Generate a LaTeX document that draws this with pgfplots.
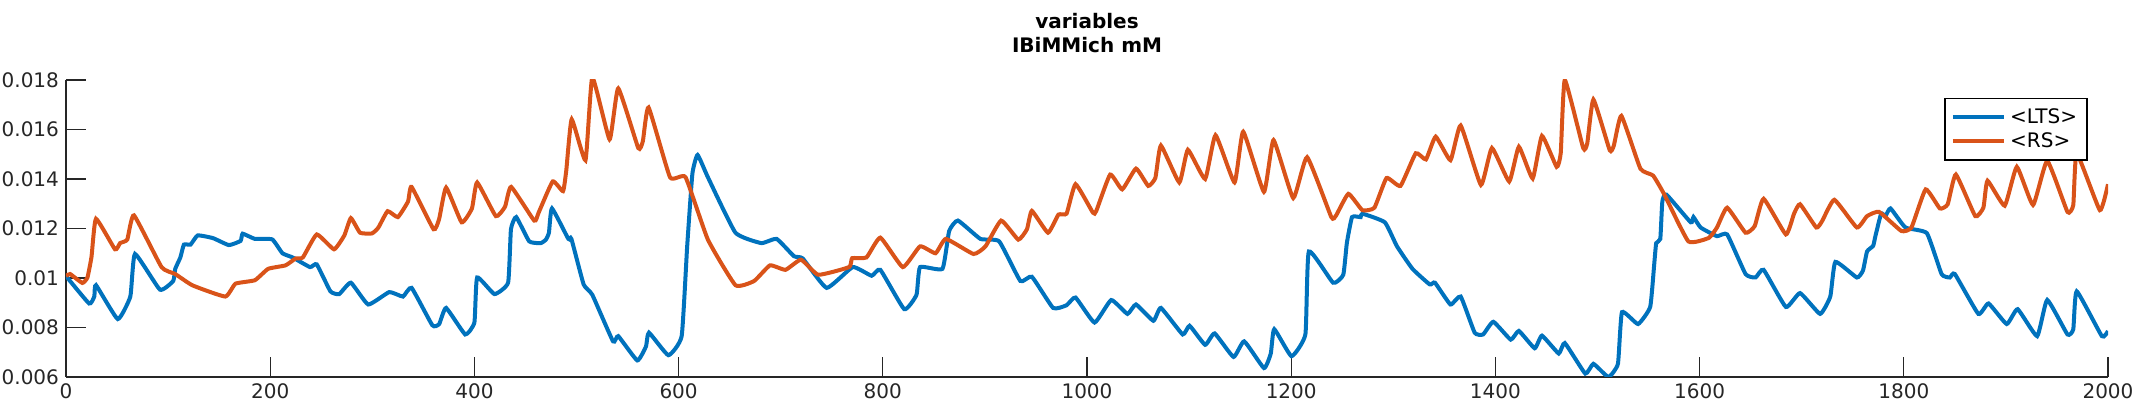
\documentclass[border=0pt]{standalone}
\usepackage{pgfplots}
\pgfplotsset{compat=1.18}
\usepackage{fontspec}
\setmainfont{DejaVu Sans}
\definecolor{mblue}{RGB}{0,114,189}
\definecolor{morange}{RGB}{217,83,25}
\begin{document}
\begin{tikzpicture}
\useasboundingbox (0,0) rectangle (1066.5pt,200pt);
\begin{axis}[at={(33pt,11.5pt)}, anchor=origin,
  scale only axis, width=1021pt, height=148.5pt,
  xmin=0, xmax=2000, ymin=0.006, ymax=0.018,
  axis lines=left, axis line style={-, line width=0.6pt, color=black!85},
  tick align=inside, major tick length=10pt, tick style={color=black!85, line width=0.6pt},
  xtick={0,200,...,2000}, ytick={0.006,0.008,...,0.0181},
  xticklabel style={/pgf/number format/1000 sep={}},
  yticklabel style={/pgf/number format/fixed, /pgf/number format/precision=3},
  scaled y ticks=false,
  /pgf/number format/assume math mode=true,
  ticklabel style={font=\fontsize{10}{12}\selectfont, color=black!85},
  title style={font=\bfseries\fontsize{10}{12}\selectfont, align=center, yshift=4pt},
  title={variables\\IBiMMich mM},
  legend style={at={(0.99,0.94)}, anchor=north east, draw=black, line width=0.6pt, fill=white,
    font=\fontsize{10}{12}\selectfont, row sep=-1pt, inner sep=3pt},
  legend cell align=left,
  legend image code/.code={\draw[#1, line width=2pt] (0cm,0cm) -- (0.9cm,0cm);},
]
\addplot[mblue, line width=2pt, smooth, tension=0.25] coordinates {
(0,0.01008)(22.6,0.00897)(27.7,0.00925)(29.4,0.00971)(50.7,0.00834)(63,0.00925)(67.6,0.01097)
(92,0.00953)(105,0.00988)(107,0.01037)(112,0.01083)(115.5,0.01135)(122,0.01135)(129,0.01172)
(144,0.01161)(159.5,0.01133)(171,0.0115)(173,0.01179)(185,0.01158)(202,0.01156)(212,0.011)
(222,0.01083)(239,0.01044)(245.6,0.01055)(259,0.00946)(267.6,0.00935)(279,0.00981)(296,0.00893)
(316.6,0.00943)(330,0.00925)(338.5,0.0096)(358.8,0.00809)(365.5,0.00814)(372.3,0.00879)
(391,0.00772)(400,0.0082)(402.7,0.01002)(419.6,0.00935)(433,0.00981)(435.8,0.01197)(441,0.01246)
(453.7,0.01148)(465,0.01141)(470,0.01155)(473,0.01183)(476,0.01281)(492,0.01158)(495,0.01158)
(507,0.00974)(515.5,0.00932)(535.8,0.00744)(540.9,0.00765)(559.5,0.00667)(568,0.00723)
(571,0.00779)(590,0.00688)(603,0.00765)(608.4,0.01128)(613.5,0.01421)(618.6,0.01497)
(628.7,0.01407)(655.7,0.01183)(681,0.01141)(696,0.01158)(713,0.01088)(721.6,0.01079)
(745,0.0096)(770.6,0.01044)(789,0.01009)(797.6,0.01033)(821,0.00874)(833,0.00932)(836.5,0.01044)
(858.4,0.01037)(865,0.0119)(873.6,0.01232)(895.6,0.01158)(914,0.01148)(934.7,0.00988)(946,0.01005)
(966.8,0.00879)(980,0.0089)(988.8,0.00921)(1007.4,0.0082)(1023.7,0.00911)(1039.6,0.00855)
(1048,0.00893)(1065,0.00827)(1072.4,0.00879)(1093.7,0.00772)(1100.5,0.00807)(1115.7,0.0073)
(1125,0.00776)(1143.5,0.00681)(1154,0.00744)(1173.3,0.00636)(1180,0.00695)(1183.4,0.00793)
(1200.3,0.00684)(1213.9,0.00772)(1217.3,0.01107)(1241,0.00981)(1251,0.01013)(1254.5,0.01141)
(1259.6,0.01246)(1268,0.01246)(1269.7,0.0126)(1291.7,0.01225)(1303.6,0.01128)(1318.8,0.01037)
(1335.7,0.00974)(1340.8,0.00981)(1356,0.00893)(1366,0.00925)(1379.7,0.00779)(1388,0.00772)
(1398,0.00823)(1415,0.00751)(1423,0.00786)(1438.5,0.00716)(1445.6,0.00767)(1462,0.00695)
(1468,0.00737)(1488,0.00614)(1496,0.00653)(1510.7,0.006)(1520,0.00653)(1524,0.00862)
(1539.7,0.00814)(1551.6,0.00883)(1555.6,0.01058)(1557.5,0.01141)(1561.5,0.01158)(1563.5,0.01309)
(1567.5,0.01337)(1591.3,0.01225)(1594,0.01246)(1601,0.01204)(1617,0.01169)(1627,0.01176)
(1645,0.01016)(1654.8,0.01002)(1662.7,0.01033)(1684.5,0.00883)(1698.4,0.00939)(1718,0.00855)
(1728,0.00925)(1733,0.01065)(1754,0.01002)(1760,0.0103)(1764,0.01107)(1770,0.0113)(1772,0.01166)
(1777.8,0.0126)(1782,0.0125)(1787,0.01281)(1801.6,0.01204)(1822.6,0.01181)(1837,0.01016)
(1845,0.01002)(1850,0.01016)(1873,0.00855)(1883,0.00897)(1900.8,0.00814)(1911.5,0.00874)
(1930.6,0.00765)(1940.5,0.00911)(1960.3,0.00772)(1966,0.00793)(1969.4,0.00946)(1994,0.00765)
(2000,0.00786)};
\addlegendentry{<LTS>}
\addplot[morange, line width=2pt, smooth, tension=0.25] coordinates {
(0,0.01008)(4,0.01016)(16,0.0098)(21,0.01002)(25,0.01086)(29.4,0.01239)(48,0.01116)(53,0.01141)
(60,0.01155)(66.6,0.01253)(93.6,0.01044)(107,0.01016)(124,0.0097)(156,0.00925)(166,0.00977)
(185,0.00991)(198,0.01037)(215,0.01051)(225,0.01079)(232,0.01083)(245.6,0.01176)(262.5,0.01116)
(272.6,0.01172)(279,0.01242)(288,0.01183)(299.7,0.0118)(306,0.01204)(315,0.0127)(325,0.01246)
(335,0.01309)(338.5,0.01368)(360,0.01197)(365.5,0.01239)(372.3,0.01365)(387.5,0.01225)
(397.6,0.01281)(402.7,0.01386)(421,0.0125)(430,0.01288)(436,0.01368)(458.6,0.01232)(463,0.01265)
(476.7,0.0139)(486.8,0.01351)(490,0.01435)(495.3,0.01641)(508.8,0.01476)(515.5,0.01811)
(532.4,0.0156)(540.9,0.01766)(560.5,0.01525)(565,0.01553)(570.6,0.01689)(591.6,0.01407)
(606.8,0.01407)(628.7,0.01155)(655.7,0.00971)(674,0.00988)(689.5,0.01051)(704.7,0.01033)
(719.9,0.01074)(736.8,0.01013)(767,0.01044)(770,0.0108)(784,0.01083)(797.6,0.01163)(819.6,0.01044)
(836.5,0.01128)(851.7,0.011)(861.8,0.01158)(888.8,0.01097)(900.6,0.01128)(915.9,0.01232)
(932.7,0.01155)(941.2,0.01197)(946,0.01271)(961.8,0.01183)(972,0.01256)(980,0.0126)
(988.8,0.01379)(1005.8,0.01264)(1009,0.0127)(1022.7,0.01418)(1034.5,0.01358)(1048,0.01442)
(1060,0.01372)(1067,0.01405)(1072.4,0.01535)(1090.4,0.01386)(1098.8,0.01518)(1115.7,0.014)
(1125.9,0.01577)(1144.5,0.01386)(1153,0.01591)(1173.3,0.01348)(1182.7,0.01557)(1202,0.01323)
(1215.6,0.01488)(1239.3,0.01246)(1244,0.01253)(1256,0.0134)(1269.7,0.01274)(1281.5,0.01284)
(1293.4,0.01404)(1307,0.01372)(1322,0.01504)(1332,0.01479)(1341.5,0.01571)(1356,0.01476)
(1366,0.01616)(1385.8,0.01376)(1396.6,0.01525)(1413.5,0.0139)(1423,0.0153)(1436.5,0.01402)
(1445.6,0.01574)(1460,0.01449)(1464,0.01505)(1468,0.018)(1486,0.01525)(1490,0.01545)(1496,0.01721)
(1512,0.01516)(1516,0.01535)(1523.4,0.01655)(1542,0.01442)(1554.4,0.01414)(1565.5,0.01337)
(1589,0.01148)(1609,0.01162)(1617,0.01204)(1627,0.01284)(1645,0.01183)(1654,0.0121)(1662.7,0.0132)
(1684.5,0.01176)(1692.5,0.0126)(1698.4,0.01298)(1714.3,0.01204)(1720,0.0123)(1732,0.01316)
(1754,0.01204)(1764,0.0125)(1775.8,0.01267)(1797.6,0.0119)(1807.5,0.01204)(1821.4,0.01358)
(1835.3,0.01281)(1843,0.01298)(1851,0.01418)(1870,0.0125)(1878,0.01285)(1882,0.01393)
(1898.8,0.01292)(1910.7,0.01449)(1926.6,0.01295)(1940.5,0.01473)(1960.3,0.01267)(1966,0.01295)
(1969.4,0.01504)(1992,0.01274)(2000,0.01379)};
\addlegendentry{<RS>}
\end{axis}
\end{tikzpicture}
\end{document}
